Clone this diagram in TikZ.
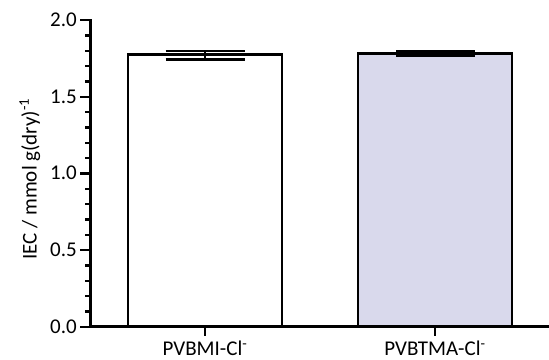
\documentclass[tikz,border=0pt]{standalone}
\usepackage{fontspec}
\setmainfont{Carlito}
\usepackage{tikz}
\usetikzlibrary{arrows.meta}

\definecolor{barfill}{RGB}{217,217,236}

\tikzset{
    axisline/.style={line width=3pt, line join=miter},
    tickline/.style={line width=2.4pt},
    barbox/.style={line width=2.6pt, line join=miter},
    errbar/.style={line width=2.4pt},
    ticklabel/.style={anchor=base east, inner sep=0pt},
    barlabel/.style={anchor=base, inner sep=0pt}
}

\begin{document}
\begin{tikzpicture}[x=1pt,y=1pt,font=\fontsize{21}{24}\selectfont]
        \def\xo{90}
        \def\yo{32.3}
        \def\unit{153.3}
        \def\capw{39.5}

        \useasboundingbox (0,0) rectangle (549,359);

        % bars
        \draw[barbox, fill=white] (128,\yo) rectangle (282,{\yo+1.776*\unit});
        \draw[barbox, fill=barfill] (358,\yo) rectangle (512,{\yo+1.783*\unit});

        % error bars
        \draw[errbar] ({205-\capw},{\yo+1.798*\unit}) -- ({205+\capw},{\yo+1.798*\unit});
        \draw[errbar] ({205-\capw},{\yo+1.744*\unit}) -- ({205+\capw},{\yo+1.744*\unit});
        \draw[errbar] (205,{\yo+1.744*\unit}) -- (205,{\yo+1.798*\unit});
        \fill ({435-\capw},{\yo+1.797*\unit+1.2}) rectangle ({435+\capw},{\yo+1.765*\unit-1.2});

        % axes
        \foreach \k in {1,...,19}
            \draw[tickline] (\xo,{\yo+0.1*\k*\unit}) -- ++(-5,0);
        \foreach \v [count=\i] in {0.0,0.5,1.0,1.5,2.0} {
            \draw[tickline] (\xo,{\yo+\v*\unit}) -- ++(-10,0);
            \node[ticklabel] (tick\i) at (77,{\yo+\v*\unit-6.6}) {\v};
        }
        \draw[tickline] (205,\yo) -- ++(0,-9);
        \draw[tickline] (435,\yo) -- ++(0,-9);
        \draw[axisline] (\xo,{\yo+2*\unit+1}) -- (\xo,\yo) -- (549,\yo);

        \node[barlabel] (pvbmi) at (205,3.4) {PVBMI-Cl\textsuperscript{-}};
        \node[barlabel] (pvbtma) at (435,3.4) {PVBTMA-Cl\textsuperscript{-}};
        \node[rotate=90, anchor=base, inner sep=0pt] (ylabel) at (36.5,180) {IEC / mmol g(dry)\textsuperscript{-1}};
\end{tikzpicture}
\end{document}
